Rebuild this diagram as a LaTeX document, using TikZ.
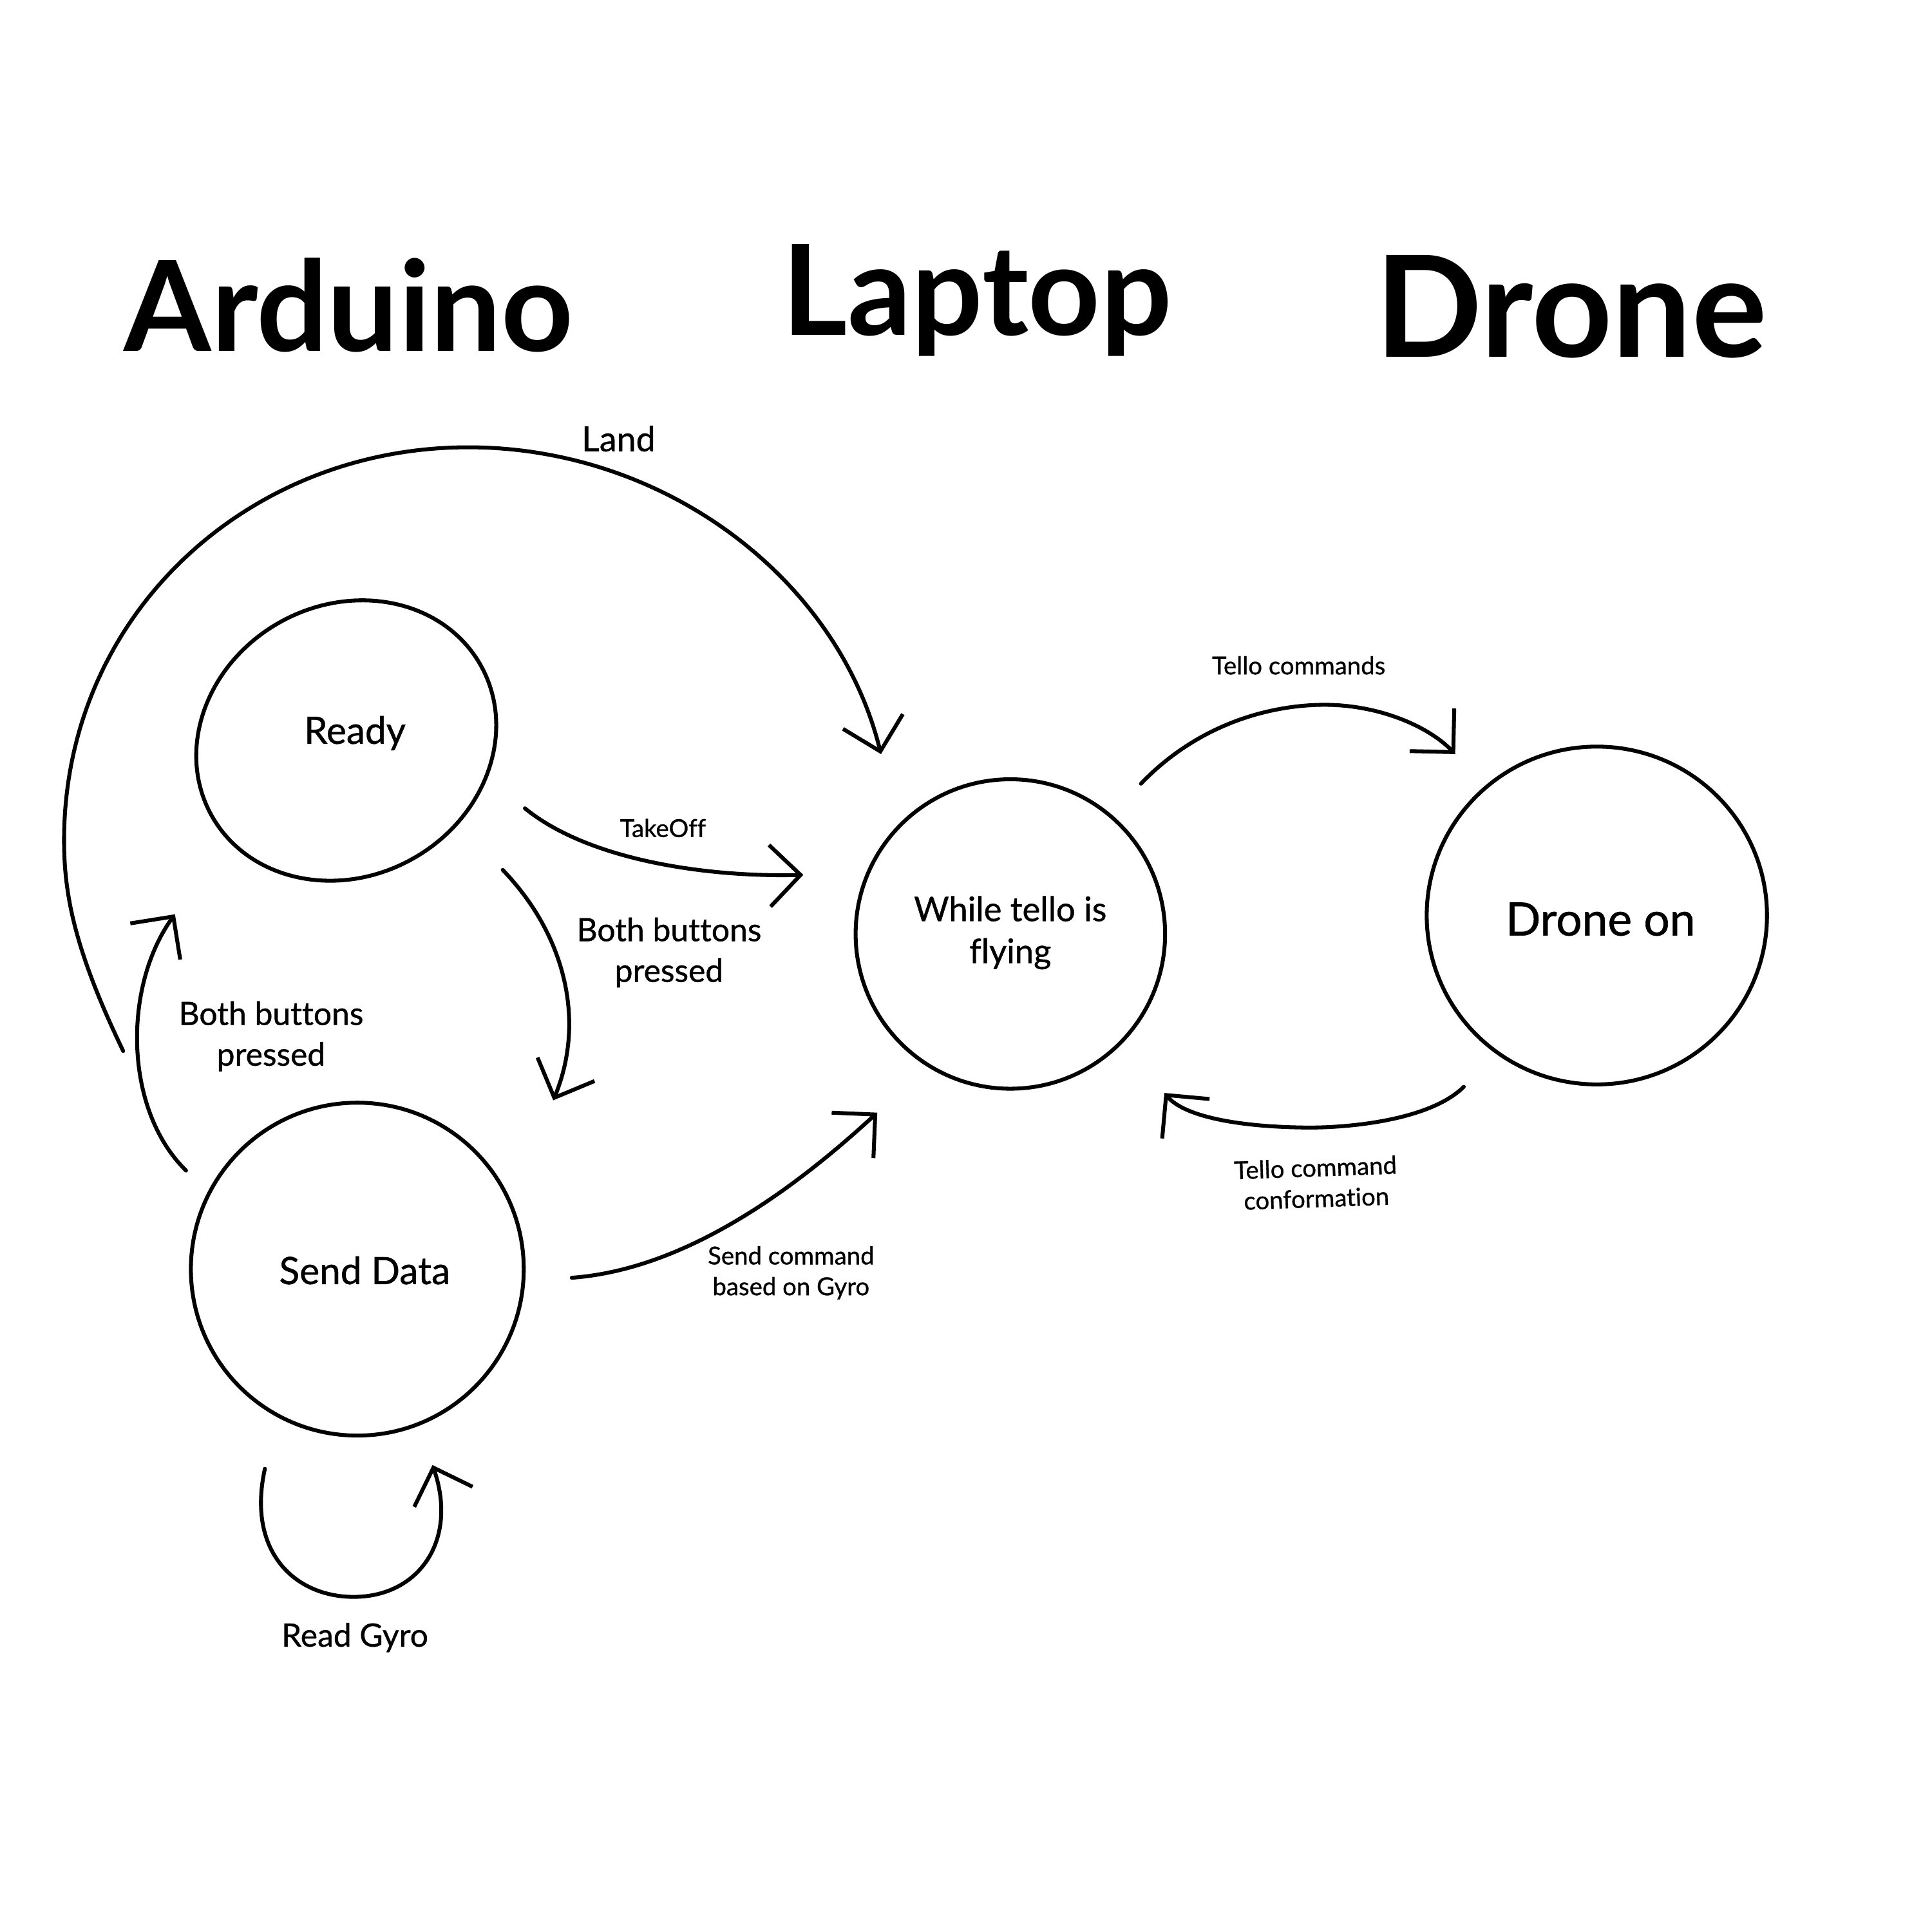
\documentclass[tikz,border=0pt]{standalone}
\usepackage{fontspec}
\setmainfont{Lato}[Ligatures=NoCommon]
\newfontfamily\lblfont{Lato}[Ligatures=NoCommon, FakeBold=0.8]
\usetikzlibrary{arrows.meta,shapes.geometric}
\begin{document}
\begin{tikzpicture}[x=0.01cm,y=-0.01cm, line width=0.9pt,
  state/.style={draw, circle, inner sep=0pt},
  conn/.style={-{Straight Barb[length=2.5mm,width=5mm]}, line cap=round, line join=round},
  title/.style={font=\fontsize{29}{34}\selectfont\bfseries, anchor=base},
  stxt/.style={font=\lblfont\fontsize{8.7}{10}\selectfont, align=center},
  lbl/.style={font=\lblfont\fontsize{7.4}{9.4}\selectfont, align=center},
  sml/.style={font=\lblfont\fontsize{5.7}{7.1}\selectfont, align=center}]
\useasboundingbox[fill=white] (0,0) rectangle (1568,1568);

% titles
\node[title] (tArd) at (283,285) {Arduino};
\node[title] (tLap) at (793,272) {Laptop};
\node[title, font=\fontsize{32.5}{38}\selectfont\bfseries] (tDro) at (1275,290) {Drone};

% states
\node[draw, ellipse, minimum width=2.50cm, minimum height=2.20cm, inner sep=0pt, rotate=29] (ready) at (281,601) {};
\node[stxt] (readyT) at (288,595) {Ready};
\node[state, minimum size=2.70cm] (send) at (290,1030) {};
\node[stxt] (sendT) at (296,1031) {Send Data};
\node[state, minimum size=2.51cm] (fly) at (820,758) {};
\node[stxt, font=\lblfont\fontsize{7.8}{9.7}\selectfont] (flyT) at (820,757) {While tello is\\flying};
\node[draw, ellipse, minimum width=2.76cm, minimum height=2.74cm, inner sep=0pt] (drone) at (1296,743) {};
\node[stxt, font=\lblfont\fontsize{10.6}{12}\selectfont] (droneT) at (1299,746) {Drone on};

% coordinates for free connector ends
\coordinate (landS) at (100,853);
\coordinate (landE) at (715,612);
\coordinate (toS) at (426,656);
\coordinate (toE) at (652,710);
\coordinate (rsS) at (408,706);
\coordinate (rsE) at (449,893);
\coordinate (srS) at (151,950);
\coordinate (srE) at (142,742);
\coordinate (sfS) at (464,1037);
\coordinate (sfE) at (712,903);
\coordinate (rgS) at (215,1192);
\coordinate (rgE) at (351,1189);
\coordinate (tcS) at (926,636);
\coordinate (tcE) at (1181,612);
\coordinate (cfS) at (1188,882);
\coordinate (cfE) at (945,887);

% connectors
\draw[conn] (landS) .. controls (60,770) and (52,725) .. (52,682)
  .. controls (52,500) and (200,363) .. (380,363)
  .. controls (540,363) and (680,470) .. (landE);
\draw[conn] (toS) .. controls (480,700) and (580,712) .. (toE);
\draw[conn] (rsS) .. controls (460,760) and (475,830) .. (rsE);
\draw[conn] (srS) .. controls (100,900) and (100,800) .. (srE);
\draw[conn] (sfS) .. controls (560,1030) and (650,960) .. (sfE);
\draw[conn] (rgS) .. controls (200,1260) and (240,1296) .. (287,1296)
  .. controls (340,1296) and (372,1250) .. (rgE);
\draw[conn] (tcS) .. controls (975,585) and (1035,572) .. (1075,572)
  .. controls (1120,572) and (1160,590) .. (tcE);
\draw[conn] (cfS) .. controls (1160,910) and (1090,916) .. (1055,915)
  .. controls (1000,914) and (960,905) .. (cfE);

% labels
\node[lbl, font=\lblfont\fontsize{8}{9.4}\selectfont] (lLand) at (502,356) {Land};
\node[sml] (lTake) at (538,672) {TakeOff};
\node[lbl] (lBoth1) at (543,773) {Both buttons\\pressed};
\node[lbl] (lBoth2) at (220,841) {Both buttons\\pressed};
\node[sml] (lSend) at (642,1033) {Send command\\based on Gyro};
\node[lbl] (lGyro) at (288,1329) {Read Gyro};
\node[sml] (lTello) at (1054,540) {Tello commands};
\node[sml, rotate=2] (lConf) at (1068,960) {Tello command\\conformation};
\end{tikzpicture}
\end{document}
